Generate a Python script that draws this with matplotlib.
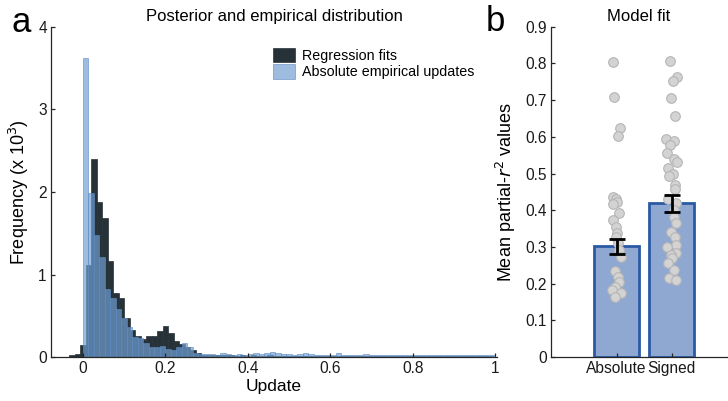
import numpy as np
import matplotlib.pyplot as plt

plt.rcParams['font.family'] = ['Liberation Sans', 'DejaVu Sans']

# --- Histogram data (counts in thousands) ---
bin_w = 1 / 75
fit_start = -0.0457
fit_counts = [0.005, 0.02, 0.04, 0.14, 1.12, 2.40, 1.88, 1.68, 1.16, 0.78,
              0.71, 0.47, 0.33, 0.26, 0.22, 0.25, 0.26, 0.31, 0.38, 0.29,
              0.20, 0.16, 0.12, 0.08, 0.05, 0.03, 0.02, 0.02, 0.02, 0.02,
              0.02, 0.01, 0.02, 0.01, 0.02, 0.01, 0.01, 0.02, 0.01, 0.01,
              0.01, 0.01, 0.01, 0.01, 0.01, 0.01, 0.01, 0.01, 0.01, 0.01,
              0.01, 0.01, 0.01, 0.01, 0.01, 0.01, 0.01, 0.01, 0.01, 0.01,
              0.01, 0.01, 0.01, 0.01, 0.01, 0.01, 0.01, 0.01, 0.01, 0.01,
              0.01, 0.01, 0.01, 0.01, 0.01, 0.01, 0.01, 0.01]
emp_start = 0.0
emp_counts = [3.63, 1.99, 1.48, 1.21, 0.82, 0.72, 0.58, 0.47, 0.36, 0.24,
              0.23, 0.17, 0.12, 0.12, 0.13, 0.10, 0.09, 0.12, 0.17, 0.12,
              0.05, 0.04, 0.04, 0.04, 0.03, 0.05, 0.04, 0.03, 0.04, 0.03,
              0.04, 0.05, 0.04, 0.05, 0.06, 0.05, 0.04, 0.04, 0.03, 0.04,
              0.05, 0.04, 0.03, 0.03, 0.03, 0.02, 0.05, 0.03, 0.03, 0.02,
              0.03, 0.04, 0.03, 0.02, 0.03, 0.02, 0.02, 0.03, 0.02, 0.03,
              0.02, 0.02, 0.03, 0.02, 0.02, 0.03, 0.02, 0.02, 0.03, 0.02,
              0.02, 0.02, 0.03, 0.02, 0.02]

# --- Model fit data ---
models = ['Absolute', 'Signed']
mean_r2 = [0.302, 0.419]
sem_low = [0.281, 0.395]
sem_high = [0.322, 0.441]
abs_r2 = [0.803, 0.708, 0.623, 0.603, 0.437, 0.430, 0.423, 0.417, 0.392,
          0.373, 0.355, 0.339, 0.326, 0.310, 0.292, 0.272, 0.235, 0.219,
          0.205, 0.192, 0.183, 0.174, 0.164]
signed_r2 = [0.807, 0.762, 0.752, 0.707, 0.657, 0.593, 0.588, 0.577, 0.555,
             0.540, 0.530, 0.515, 0.500, 0.492, 0.470, 0.457, 0.430, 0.420,
             0.400, 0.382, 0.364, 0.341, 0.328, 0.305, 0.300, 0.284, 0.278,
             0.269, 0.255, 0.237, 0.214, 0.210]

dark = '#263238'
light = '#719fd2'
axis_col = '#262626'

fig = plt.figure(figsize=(7.28, 4.01), dpi=100)

# --- Panel a: histograms ---
ax1 = fig.add_axes([0.070, 0.1097, 0.613, 0.823])
fit_edges = fit_start + bin_w * np.arange(len(fit_counts))
emp_edges = emp_start + bin_w * np.arange(len(emp_counts))
ax1.bar(fit_edges, fit_counts, width=bin_w, align='edge', color=dark,
        edgecolor=dark, linewidth=0.5, label='Regression fits')
ax1.bar(emp_edges, emp_counts, width=bin_w, align='edge', color=light,
        alpha=0.69, edgecolor='#5d8cc4', linewidth=0.6,
        label='Absolute empirical updates')
ax1.set_xlim(-0.077, 1.005)
ax1.set_ylim(0, 4)
ax1.set_xticks([0, 0.2, 0.4, 0.6, 0.8, 1])
ax1.set_xticklabels(['0', '0.2', '0.4', '0.6', '0.8', '1'])
ax1.set_yticks([0, 1, 2, 3, 4])
ax1.set_xlabel('Update', fontsize=12.5, labelpad=2)
ax1.set_ylabel('Frequency (x 10$^3$)', fontsize=13, labelpad=5)
ax1.set_title('Posterior and empirical distribution', fontsize=12, pad=4)
ax1.legend(loc='upper left', bbox_to_anchor=(0.485, 0.955), frameon=False,
           fontsize=10.3, handlelength=1.5, handleheight=1.2,
           handletextpad=0.5, labelspacing=0.1, borderaxespad=0)
ax1.text(-0.045, 1.065, 'a', transform=ax1.transAxes,
         fontsize=25, ha='right', va='top')

# --- Panel b: bars with individual subjects ---
ax2 = fig.add_axes([0.757, 0.1097, 0.2416, 0.8237])
xpos = np.arange(1, len(models) + 1)
ax2.bar(xpos, mean_r2, width=0.82, color='#8fa8d2', edgecolor='#2b5aa5',
        linewidth=2, zorder=1)
rng = np.random.default_rng(3)
for x, vals, spread in zip(xpos, [abs_r2, signed_r2], [0.09, 0.11]):
    jitter = rng.uniform(-spread, spread, len(vals))
    ax2.scatter(x + jitter, vals, s=48, color='#d3d3d3', edgecolor='#b5b5b5',
                linewidth=0.8, zorder=2)
err = [np.array(mean_r2) - np.array(sem_low), np.array(sem_high) - np.array(mean_r2)]
ax2.errorbar(xpos, mean_r2, yerr=err, fmt='none', ecolor='black',
             elinewidth=2, capsize=6, capthick=2, zorder=3)
ax2.set_xlim(-0.19, 3.0)
ax2.set_ylim(0, 0.9)
ax2.set_xticks(xpos)
ax2.set_xticklabels(models)
ax2.set_yticks(np.arange(0, 0.91, 0.1))
ax2.set_yticklabels(['0'] + ['%.1f' % v for v in np.arange(0.1, 0.91, 0.1)])
ax2.set_ylabel('Mean partial-$\\it{r}^2$ values', fontsize=13, labelpad=5)
ax2.set_title('Model fit', fontsize=12, pad=4)
ax2.text(-0.26, 1.065, 'b', transform=ax2.transAxes, fontsize=25,
         ha='right', va='top')

for ax in (ax1, ax2):
    for side in ('top', 'right'):
        ax.spines[side].set_visible(False)
    for side in ('left', 'bottom'):
        ax.spines[side].set_color(axis_col)
        ax.spines[side].set_linewidth(0.9)
    ax.tick_params(direction='in', length=3, width=0.9, colors=axis_col,
                   labelsize=11.2, labelcolor='#1a1a1a', pad=3)

fig.savefig('out.png', dpi=100)
